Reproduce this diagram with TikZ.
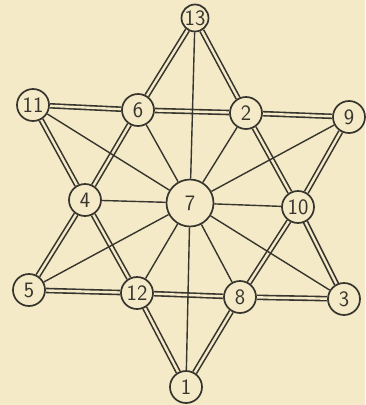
\documentclass[tikz,border=0pt]{standalone}
\usetikzlibrary{backgrounds}
\definecolor{paper}{RGB}{244,234,200}
\definecolor{ink}{RGB}{55,53,46}

\begin{document}
\begin{tikzpicture}[
  x=1pt, y=-1pt,
  font=\sffamily\fontsize{22}{22}\selectfont,
  dot/.style={
    circle,
    draw=ink,
    line width=1.7pt,
    fill=paper,
    text=ink,
    inner sep=0pt,
    minimum size=32pt
  },
  tip/.style={dot, minimum size=27pt},
  hub/.style={dot, minimum size=47pt},
  rod/.style={draw=ink, line width=1.6pt, double=paper, double distance=2.4pt},
  spoke/.style={draw=ink, line width=1.4pt}
]
\useasboundingbox (0,0) rectangle (365,405);

\node[tip] (n13) at (195,18) {13};
\node[dot] (n11) at (33,105) {11};
\node[dot] (n6) at (138,110) {6};
\node[dot] (n2) at (246,113) {2};
\node[dot] (n9) at (349,117) {9};
\node[dot] (n4) at (85,200) {4};
\node[hub] (n7) at (190,203) {7};
\node[dot] (n10) at (298,207) {10};
\node[dot] (n5) at (29,290) {5};
\node[dot] (n12) at (137,293) {12};
\node[dot] (n8) at (240,297) {8};
\node[dot] (n3) at (344,299) {3};
\node[dot] (n1) at (186,387) {1};

\begin{scope}[on background layer]
  \fill[paper] (0,0) rectangle (365,405);
  % star edges
  \draw[rod] (n13) -- (n6) -- (n4) -- (n5) -- (n12) -- (n8) -- (n3) -- (n10) -- (n2) -- (n13);
  \draw[rod] (n11) -- (n6) -- (n2) -- (n9) -- (n10) -- (n8) -- (n1) -- (n12) -- (n4) -- (n11);
  % spokes from the centre
  \foreach \n in {n13,n11,n6,n2,n9,n4,n10,n5,n12,n8,n3,n1}
    \draw[spoke] (n7) -- (\n);
\end{scope}

\end{tikzpicture}
\end{document}
